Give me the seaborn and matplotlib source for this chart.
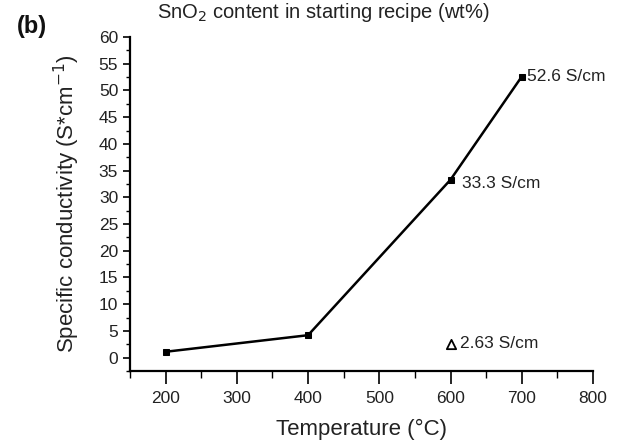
import matplotlib
matplotlib.use("Agg")
import matplotlib.pyplot as plt
from matplotlib.ticker import MultipleLocator
import seaborn as sns
import pandas as pd

# Annealing temperature series
temperature = [200, 400, 600, 700]
conductivity = [1.1, 4.2, 33.3, 52.6]

# Separate reference sample
ref_temperature = [600]
ref_conductivity = [2.63]

labels = {700: "52.6 S/cm", 600: "33.3 S/cm"}
ref_label = "2.63 S/cm"

sns.set_style("ticks")
plt.rcParams["font.family"] = ["Liberation Sans", "DejaVu Sans"]

fig = plt.figure(figsize=(6.22, 4.42), dpi=100)
ax = fig.add_axes([130 / 622, 1 - 371 / 442, (593 - 130) / 622, (371 - 37) / 442])

df = pd.DataFrame({"T": temperature, "sigma": conductivity})
sns.lineplot(data=df, x="T", y="sigma", ax=ax, color="black", linewidth=1.8,
             marker="s", markersize=4.5, markeredgecolor="black")
sns.scatterplot(x=ref_temperature, y=ref_conductivity, ax=ax, marker="^",
                s=45, facecolor="white", edgecolor="black", linewidth=1.3, zorder=3)

label_offsets = {700: (8, 0.0), 600: (16, -0.7)}
for t, s in zip(temperature, conductivity):
    if t in labels:
        dx, dy = label_offsets[t]
        ax.text(t + dx, s + dy, labels[t], fontsize=12.5, va="center", ha="left", color="#222222")
ax.text(ref_temperature[0] + 13, ref_conductivity[0], ref_label, fontsize=12.5,
        va="center", ha="left", color="#222222")

ax.set_xlim(150, 800)
ax.set_ylim(-2.5, 60)
ax.xaxis.set_major_locator(MultipleLocator(100))
ax.xaxis.set_minor_locator(MultipleLocator(50))
ax.yaxis.set_major_locator(MultipleLocator(5))
ax.yaxis.set_minor_locator(MultipleLocator(2.5))
ax.set_xticks(range(200, 801, 100))
ax.tick_params(axis="x", which="major", length=9.5, width=1.2, pad=5)
ax.tick_params(axis="x", which="minor", length=5, width=1.0)
ax.tick_params(axis="y", which="major", length=5, width=1.2, pad=3.5)
ax.tick_params(axis="y", which="minor", length=3, width=1.0)
ax.tick_params(axis="both", which="both", direction="out", colors="black",
               labelcolor="#222222", labelsize=12.5)

sns.despine(ax=ax)
for sp in ("left", "bottom"):
    ax.spines[sp].set_linewidth(1.6)
    ax.spines[sp].set_color("black")

ax.set_xlabel("Temperature (°C)", fontsize=16, color="#222222", labelpad=9)
ax.set_ylabel("Specific conductivity (S*cm$^{-1}$)", fontsize=16, color="#222222", labelpad=12)

fig.text(0.52, 1 - 13 / 442, "SnO$_2$ content in starting recipe (wt%)", fontsize=14.5,
         ha="center", va="center", color="#222222")
fig.text(17 / 622, 1 - 27 / 442, "(b)", fontsize=17, fontweight="bold", ha="left",
         va="center", color="#111111")

fig.savefig("out.png", dpi=100)
